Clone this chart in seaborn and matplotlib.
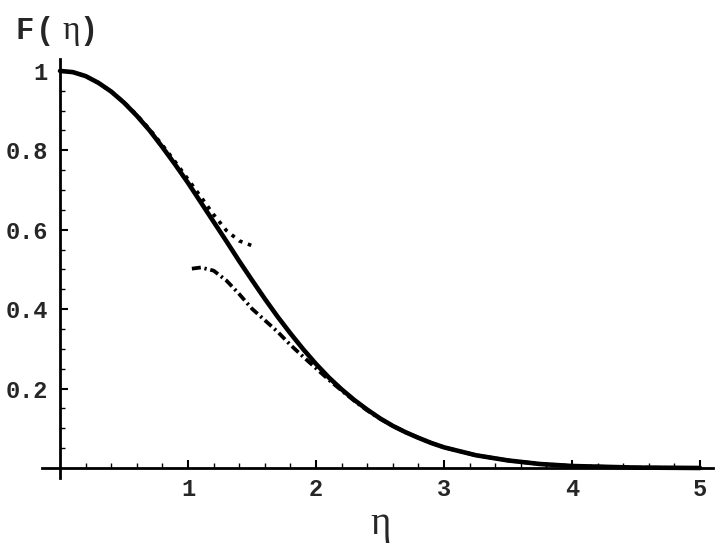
import matplotlib
matplotlib.use("Agg")
import matplotlib.pyplot as plt
import numpy as np
import pandas as pd
import seaborn as sns
from matplotlib.ticker import FixedLocator

# values
eta_full = [0.0, 0.1, 0.2, 0.3, 0.4, 0.5, 0.6, 0.7, 0.8, 0.9, 1.0, 1.1, 1.2, 1.3,
            1.4, 1.5, 1.6, 1.7, 1.8, 1.9, 2.0, 2.1, 2.2, 2.3, 2.4, 2.5, 2.6, 2.7,
            2.8, 2.9, 3.0, 3.25, 3.5, 3.75, 4.0, 4.5, 5.0]
F_full = [1.000, 0.997, 0.987, 0.970, 0.948, 0.920, 0.887, 0.850, 0.808, 0.764,
          0.718, 0.669, 0.620, 0.571, 0.521, 0.473, 0.426, 0.381, 0.339, 0.299,
          0.262, 0.228, 0.198, 0.171, 0.147, 0.125, 0.106, 0.090, 0.076, 0.063,
          0.052, 0.032, 0.019, 0.010, 0.005, 0.001, 0.000]

# small-eta series (dotted)
eta_small = [0.0, 0.1, 0.2, 0.3, 0.4, 0.5, 0.6, 0.7, 0.8, 0.9, 1.0, 1.1, 1.2,
             1.3, 1.4, 1.5]
F_small = [1.000, 0.997, 0.987, 0.970, 0.948, 0.921, 0.889, 0.853, 0.813, 0.771,
           0.727, 0.683, 0.638, 0.598, 0.572, 0.560]

# large-eta series (dash-dot)
eta_large = [1.03, 1.1, 1.2, 1.3, 1.4, 1.5, 1.6, 1.7, 1.8, 1.9, 2.0, 2.1, 2.2,
             2.3, 2.4, 2.5, 2.6, 2.7, 2.8, 2.9, 3.0, 3.25, 3.5, 3.75, 4.0, 4.5, 5.0]
F_large = [0.502, 0.505, 0.497, 0.472, 0.438, 0.401, 0.372, 0.343, 0.310, 0.280,
           0.251, 0.222, 0.195, 0.169, 0.145, 0.124, 0.106, 0.090, 0.076, 0.063,
           0.052, 0.032, 0.019, 0.010, 0.005, 0.001, 0.000]

x_major = [1, 2, 3, 4, 5]
y_major = [0.2, 0.4, 0.6, 0.8, 1.0]
y_labels = ["0.2", "0.4", "0.6", "0.8", "1"]

sns.set_style("white")
plt.rcParams['font.family'] = ['Liberation Mono', 'DejaVu Sans']

fig = plt.figure(figsize=(7.2, 5.44), dpi=100)
ax = fig.add_axes([0.0585, 0.1215, 0.9315, 0.77])

full = pd.DataFrame({"eta": eta_full, "F": F_full})
small = pd.DataFrame({"eta": eta_small, "F": F_small})
large = pd.DataFrame({"eta": eta_large, "F": F_large})

sns.lineplot(data=small, x="eta", y="F", ax=ax, color="black", lw=2.6,
             linestyle=(0, (1.0, 1.6)), sort=False)
sns.lineplot(data=large, x="eta", y="F", ax=ax, color="black", lw=2.7,
             linestyle=(0, (2.4, 1.0, 0.6, 1.0)), sort=False)
sns.lineplot(data=full, x="eta", y="F", ax=ax, color="black", lw=3.3, sort=False)

ax.set_xlim(-0.14, 5.1)
ax.set_ylim(-0.025, 1.03)

for side in ["top", "right"]:
    ax.spines[side].set_visible(False)
ax.spines["left"].set_position(("data", 0))
ax.spines["bottom"].set_position(("data", 0))
for side in ["left", "bottom"]:
    ax.spines[side].set_linewidth(2.0)
    ax.spines[side].set_color("black")

ax.set_xticks(x_major)
ax.set_xticklabels([str(v) for v in x_major])
ax.set_yticks(y_major)
ax.set_yticklabels(y_labels)
ax.xaxis.set_minor_locator(FixedLocator([v / 5 for v in range(1, 26) if v % 5]))
ax.yaxis.set_minor_locator(FixedLocator([v / 20 for v in range(1, 21) if v % 4]))

ax.tick_params(which="major", direction="in", length=6, width=1.5, color="black",
               labelsize=17, bottom=True, left=True)
ax.tick_params(which="minor", direction="in", length=3.5, width=1.0, color="black",
               bottom=True, left=True)
ax.tick_params(axis="y", pad=9)
ax.tick_params(axis="x", pad=7)
for lbl in ax.get_xticklabels() + ax.get_yticklabels():
    lbl.set_fontweight("bold")

ax.set_xlabel("")
ax.set_ylabel("")

# axis titles
fig.text(15 / 720, 1 - 39 / 544, "F", fontsize=22, fontweight="bold",
         family="Liberation Mono", ha="left", va="baseline")
fig.text(36 / 720, 1 - 39 / 544, "(", fontsize=22, fontweight="bold",
         family="Liberation Mono", ha="left", va="baseline")
fig.text(71 / 720, 1 - 39 / 544, "η", fontsize=24, family="Liberation Serif",
         ha="center", va="baseline")
fig.text(79 / 720, 1 - 39 / 544, ")", fontsize=22, fontweight="bold",
         family="Liberation Mono", ha="left", va="baseline")
fig.text(381 / 720, 1 - 534 / 544, "η", fontsize=28, family="Liberation Serif",
         ha="center", va="baseline")

fig.savefig("out.png", dpi=100)
